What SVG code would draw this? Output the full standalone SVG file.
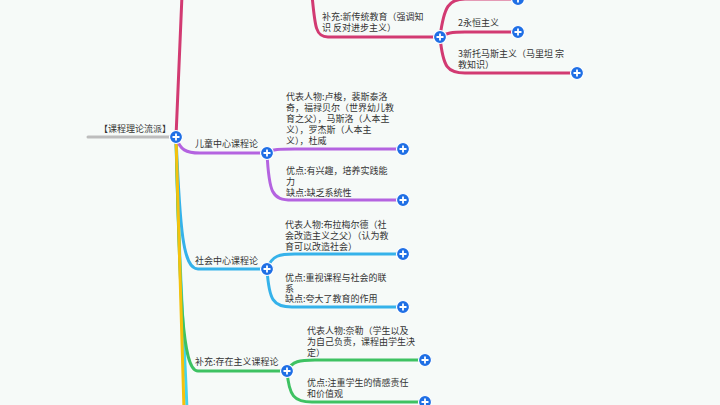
<svg xmlns="http://www.w3.org/2000/svg" width="720" height="405" viewBox="0 0 720 405">
<defs>
<style>
.t{font-family:"Noto Sans CJK SC","Noto Sans",sans-serif;font-size:9px;fill:#333}
.c{fill:none;stroke-width:3;stroke-linecap:round}
.pk{stroke:#d23a72}.pu{stroke:#b463e0}.bl{stroke:#35b2ea}.gr{stroke:#3ec262}.ye{stroke:#f4c20d}.cy{stroke:#45d3ec}.gy{stroke:#bdbdbd}
</style>
<g id="plus">
<circle r="6.5" fill="#1f6fe5" stroke="#fff" stroke-width="1.2"/>
<path d="M-3.5,0H3.5M0,-3.5V3.5" stroke="#fff" stroke-width="1.8"/>
</g>
</defs>
<rect width="720" height="405" fill="#f6faf8"/>
<g id="connectors">
<path class="c gy" d="M88,137H176"/>
<path class="c cy" d="M176,137C178,250 184,330 187,410"/>
<path class="c gr" d="M176,137C180,300 182,371 198,371H287"/>
<path class="c bl" d="M176,137C180,230 183,269 198,269H267"/>
<path class="c ye" d="M176,137L184,410"/>
<path class="c pk" d="M176,137L182,-5"/>
<path class="c pu" d="M176,137C180,150 186,153 200,153H267"/>
<path class="c pk" d="M312,-5C315,28 316,37 328,37H440"/>
<path class="c pk" d="M440,37C444,6 449,-1 465,-1H518"/>
<path class="c pk" d="M440,37C446,33 452,32 465,32H518"/>
<path class="c pk" d="M440,37C443,68 448,73 465,73H577"/>
<path class="c pu" d="M267,153C272,149 280,149 295,149H403"/>
<path class="c pu" d="M267,153C269,193 272,200 292,200H403"/>
<path class="c bl" d="M267,269C272,255 280,254 295,254H403"/>
<path class="c bl" d="M267,269C269,300 273,307 292,307H403"/>
<path class="c gr" d="M287,371C292,361 300,360 315,360H425"/>
<path class="c gr" d="M287,371C289,396 294,402 312,402H425"/>
</g>
<g id="root">
<text class="t" x="99" y="131.5">【课程理论流派】</text>
<use href="#plus" x="176" y="137"/>
</g>
<g id="n-xinchuantong">
<text class="t" x="322" y="19.5">补充:新传统教育（强调知</text>
<text class="t" x="322" y="30.5">识 反对进步主义）</text>
<use href="#plus" x="440" y="37"/>
</g>
<g id="n-top"><use href="#plus" x="518" y="-1"/></g>
<g id="n-yongheng">
<text class="t" x="458" y="26">2永恒主义</text>
<use href="#plus" x="518" y="32"/>
</g>
<g id="n-xintuomasi">
<text class="t" x="458" y="56.5">3新托马斯主义（马里坦 宗</text>
<text class="t" x="458" y="67.5">教知识）</text>
<use href="#plus" x="577" y="73"/>
</g>
<g id="n-ertong">
<text class="t" x="195" y="146.5">儿童中心课程论</text>
<use href="#plus" x="267" y="153"/>
</g>
<g id="n-ertong-ren">
<text class="t" x="286" y="99.5">代表人物:卢梭，裴斯泰洛</text>
<text class="t" x="286" y="110.5">奇，福禄贝尔（世界幼儿教</text>
<text class="t" x="286" y="121.5">育之父），马斯洛（人本主</text>
<text class="t" x="286" y="132.5">义），罗杰斯（人本主</text>
<text class="t" x="286" y="143.5">义），杜威</text>
<use href="#plus" x="403" y="149"/>
</g>
<g id="n-ertong-you">
<text class="t" x="286" y="173.5">优点:有兴趣，培养实践能</text>
<text class="t" x="286" y="184.5">力</text>
<text class="t" x="286" y="195.5">缺点:缺乏系统性</text>
<use href="#plus" x="403" y="200"/>
</g>
<g id="n-shehui">
<text class="t" x="195" y="263.5">社会中心课程论</text>
<use href="#plus" x="267" y="269"/>
</g>
<g id="n-shehui-ren">
<text class="t" x="285" y="227.5">代表人物:布拉梅尔德（社</text>
<text class="t" x="285" y="238.5">会改造主义之父）（认为教</text>
<text class="t" x="285" y="249.5">育可以改造社会）</text>
<use href="#plus" x="403" y="254"/>
</g>
<g id="n-shehui-you">
<text class="t" x="285" y="280.5">优点:重视课程与社会的联</text>
<text class="t" x="285" y="291.5">系</text>
<text class="t" x="285" y="302">缺点:夸大了教育的作用</text>
<use href="#plus" x="403" y="307"/>
</g>
<g id="n-cunzai">
<text class="t" x="195" y="364.5">补充:存在主义课程论</text>
<use href="#plus" x="287" y="371"/>
</g>
<g id="n-cunzai-ren">
<text class="t" x="307" y="333.5">代表人物:奈勒（学生以及</text>
<text class="t" x="307" y="344.5">为自己负责，课程由学生决</text>
<text class="t" x="307" y="355.5">定）</text>
<use href="#plus" x="425" y="360"/>
</g>
<g id="n-cunzai-you">
<text class="t" x="307" y="385.5">优点:注重学生的情感责任</text>
<text class="t" x="307" y="396.5">和价值观</text>
<use href="#plus" x="425" y="402"/>
</g>
</svg>
